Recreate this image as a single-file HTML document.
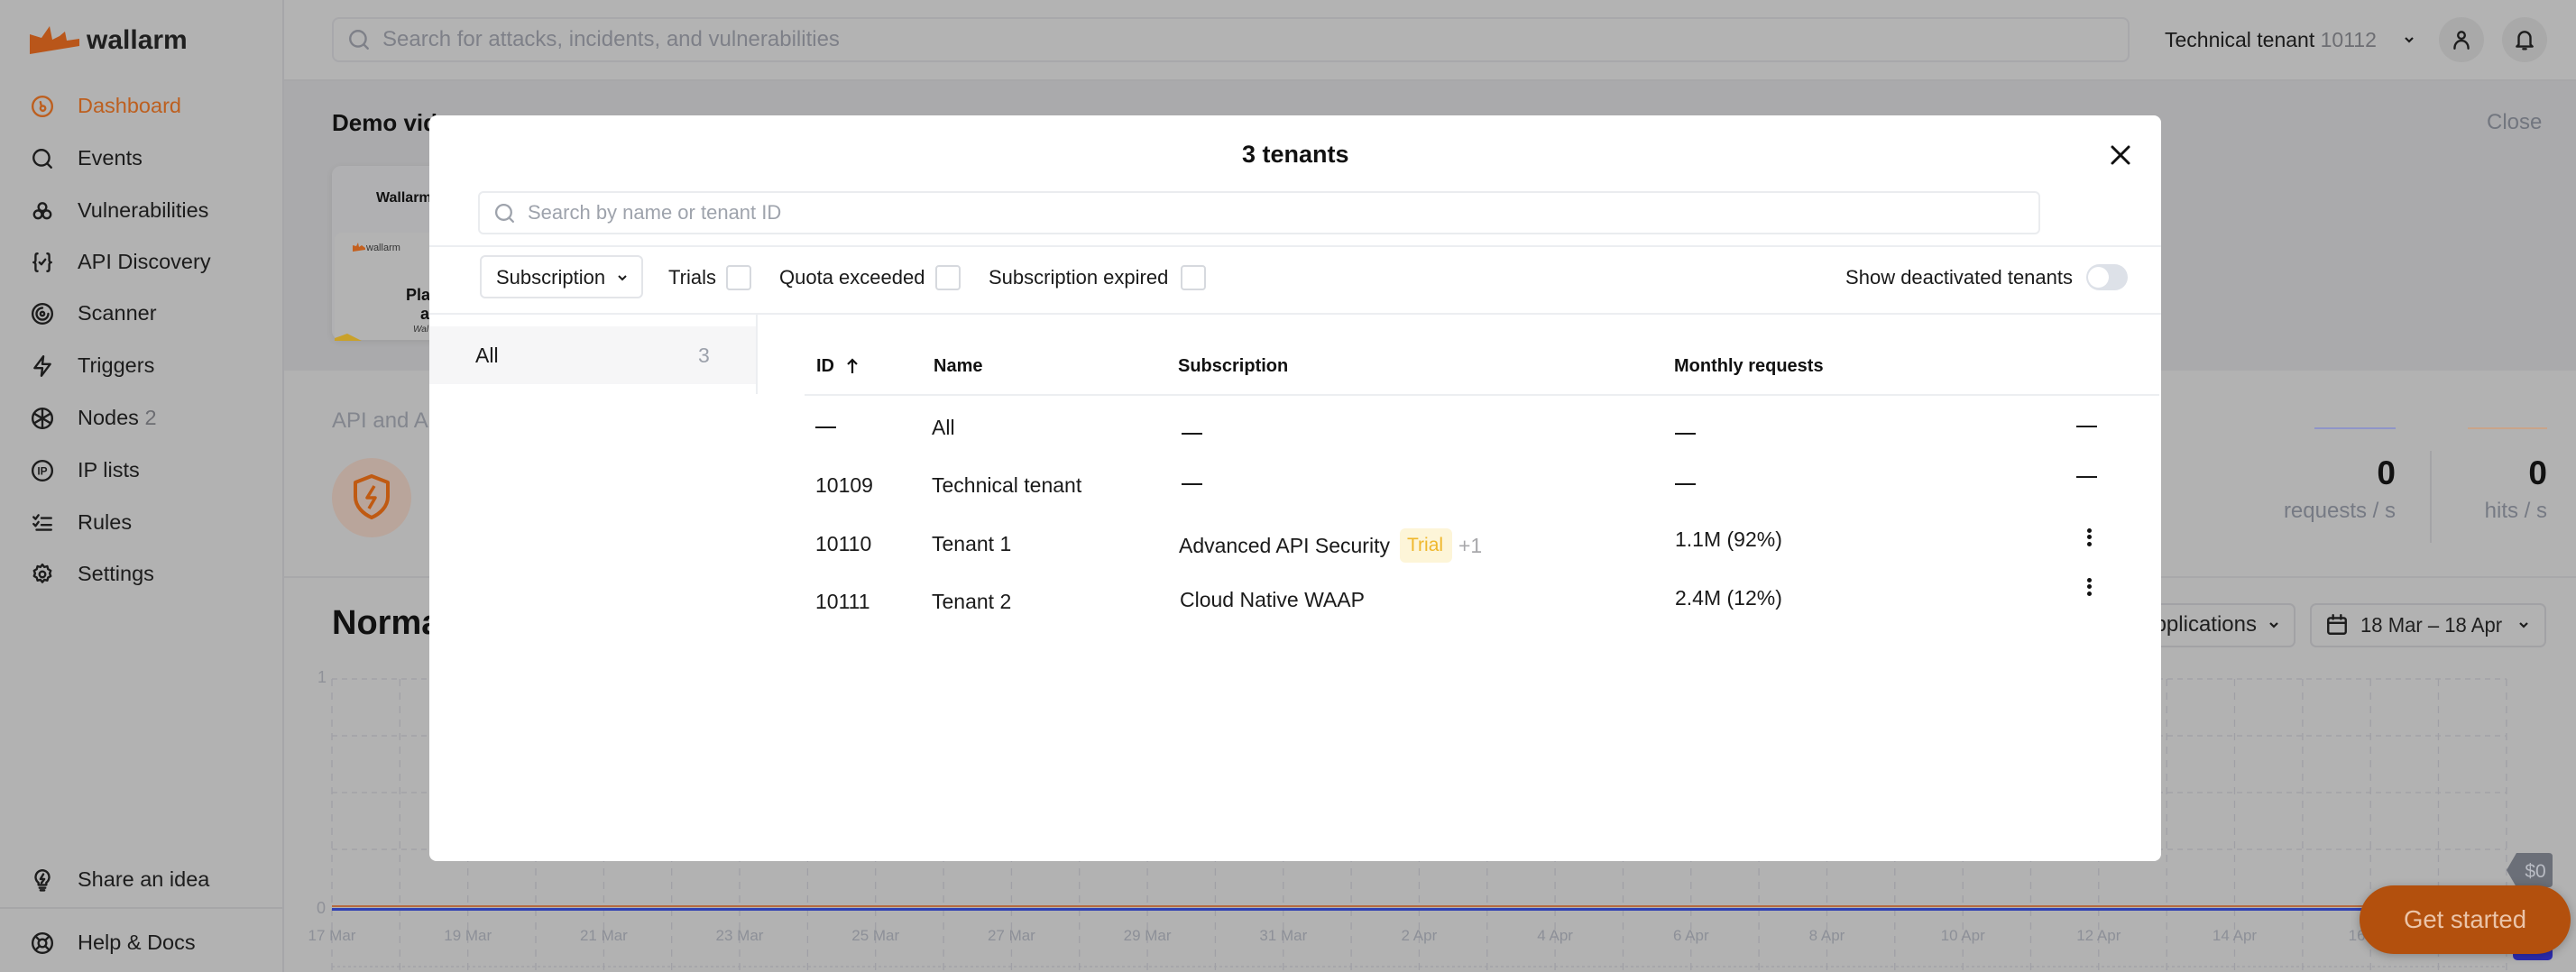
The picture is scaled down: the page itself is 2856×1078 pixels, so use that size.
<!DOCTYPE html>
<html><head><meta charset="utf-8">
<style>
*{margin:0;padding:0;box-sizing:border-box}
html,body{width:2856px;height:1078px;overflow:hidden;background:#b2b2b2;font-family:"Liberation Sans",sans-serif;position:relative}
.a{position:absolute}
.t{position:absolute;white-space:nowrap;line-height:1}
.ic{position:absolute;width:26px;height:26px;fill:none;stroke:#1d1d1d;stroke-width:2.2;stroke-linecap:round;stroke-linejoin:round}
.sb{font-size:23.5px;color:#1c1c1c;left:86px}
.m{font-size:23px;color:#1a1a1a}
.f{font-size:22px;color:#1a1a1a}
.h{font-size:20px;font-weight:bold;color:#111}
.cb{position:absolute;width:28px;height:28px;border:2px solid #d6d9de;border-radius:4px;background:#fff}
.dash{position:absolute;width:23px;height:2px;background:#1a1a1a}
.dot{position:absolute;width:5px;height:5px;border-radius:50%;background:#111}
.line{position:absolute;background:#eceef1}
</style></head><body>

<!-- sidebar -->
<div class="a" style="left:0;top:0;width:315px;height:1078px;background:#b2b2b2;border-right:2px solid #a6a6a9"></div>
<svg class="a" style="left:0;top:0" width="100" height="80"><polygon points="33,60 33,38 46,42 55,29 58,44 66,40 72,35 74,45 88,43 88,51" fill="#b9561a"/></svg>
<div class="t" style="left:96px;top:30px;font-size:30px;font-weight:bold;color:#1f1f1f">wallarm</div>

<svg class="ic" style="left:34px;top:105px;stroke:#bd5f1f" viewBox="0 0 24 24"><circle cx="12" cy="12" r="10"/><circle cx="12.5" cy="14" r="2.5"/><path d="M10 7.5 L11 11.8"/></svg>
<div class="t sb" style="top:106px;color:#bd5f1f">Dashboard</div>
<svg class="ic" style="left:34px;top:163px" viewBox="0 0 24 24"><circle cx="11" cy="11" r="8"/><path d="M17 17 L21 21"/></svg>
<div class="t sb" style="top:164px">Events</div>
<svg class="ic" style="left:34px;top:221px" viewBox="0 0 24 24"><circle cx="12" cy="8" r="4"/><circle cx="7.5" cy="15.5" r="4"/><circle cx="16.5" cy="15.5" r="4"/></svg>
<div class="t sb" style="top:222px">Vulnerabilities</div>
<svg class="ic" style="left:34px;top:278px" viewBox="0 0 24 24"><path d="M7 3 C5 3 5 4 5 6 V10 C5 11 4 12 3 12 C4 12 5 13 5 14 V18 C5 20 5 21 7 21"/><path d="M17 3 C19 3 19 4 19 6 V10 C19 11 20 12 21 12 C20 12 19 13 19 14 V18 C19 20 19 21 17 21"/><path d="M9 12 L11 14 L15 9"/></svg>
<div class="t sb" style="top:279px">API Discovery</div>
<svg class="ic" style="left:34px;top:335px" viewBox="0 0 24 24"><circle cx="12" cy="12" r="10"/><path d="M12 6 A6 6 0 1 0 18 12"/><circle cx="12" cy="12" r="2"/></svg>
<div class="t sb" style="top:336px">Scanner</div>
<svg class="ic" style="left:34px;top:393px" viewBox="0 0 24 24"><path d="M13 2 L4 14 H12 L11 22 L20 10 H12 Z"/></svg>
<div class="t sb" style="top:394px">Triggers</div>
<svg class="ic" style="left:34px;top:451px" viewBox="0 0 24 24"><circle cx="12" cy="12" r="10"/><path d="M12 2 V22 M3.5 7 L20.5 17 M3.5 17 L20.5 7"/></svg>
<div class="t sb" style="top:452px">Nodes <span style="color:#6c6d72">2</span></div>
<svg class="ic" style="left:34px;top:509px" viewBox="0 0 24 24"><circle cx="12" cy="12" r="10"/><text x="12" y="16" font-size="11" font-weight="bold" text-anchor="middle" fill="#1d1d1d" stroke="none" font-family="Liberation Sans">IP</text></svg>
<div class="t sb" style="top:510px">IP lists</div>
<svg class="ic" style="left:34px;top:567px" viewBox="0 0 24 24"><path d="M3 6 L5 8 L8 4 M3 13 L5 15 L8 11 M11 7 H21 M11 14 H21 M6 19 H21"/></svg>
<div class="t sb" style="top:568px">Rules</div>
<svg class="ic" style="left:34px;top:624px" viewBox="0 0 24 24"><circle cx="12" cy="12" r="3"/><path d="M12 2 l2 2.5 3-.8 .8 3 2.7 1.5-1 2.8 1 2.8-2.7 1.5-.8 3-3-.8-2 2.5-2-2.5-3 .8-.8-3-2.7-1.5 1-2.8-1-2.8 2.7-1.5.8-3 3 .8z"/></svg>
<div class="t sb" style="top:625px">Settings</div>
<svg class="ic" style="left:34px;top:963px" viewBox="0 0 24 24"><path d="M12 2 A7 7 0 0 0 8 14.7 V17 H16 V14.7 A7 7 0 0 0 12 2 Z"/><path d="M9 20 H15 M10 22.5 H14"/><path d="M13 6 L10 11 H14 L11 15"/></svg>
<div class="t sb" style="top:964px">Share an idea</div>
<div class="a" style="left:0;top:1006px;width:313px;height:2px;background:#a6a6a8"></div>
<svg class="ic" style="left:34px;top:1033px" viewBox="0 0 24 24"><circle cx="12" cy="12" r="10"/><circle cx="12" cy="12" r="4"/><path d="M5 5 L9.2 9.2 M14.8 14.8 L19 19 M19 5 L14.8 9.2 M9.2 14.8 L5 19"/></svg>
<div class="t sb" style="top:1034px">Help &amp; Docs</div>

<!-- header -->
<div class="a" style="left:315px;top:0;width:2541px;height:90px;background:#b3b3b3;border-bottom:2px solid #a7a7a9"></div>
<div class="a" style="left:368px;top:19px;width:1993px;height:50px;border:2px solid #a8a8ab;border-radius:8px"></div>
<svg class="ic" style="left:385px;top:31px;stroke:#7e8088;width:26px;height:26px" viewBox="0 0 24 24"><circle cx="11" cy="11" r="8"/><path d="M17 17 L21 21"/></svg>
<div class="t" style="left:424px;top:32px;font-size:24px;color:#7e8088">Search for attacks, incidents, and vulnerabilities</div>
<div class="t" style="left:2400px;top:33px;font-size:23px;color:#1b1b1b">Technical tenant <span style="color:#6d6e73">10112</span></div>
<svg class="a" style="left:2664px;top:37px" width="14" height="14" viewBox="0 0 14 14"><polyline points="3,5 7,9 11,5" fill="none" stroke="#1b1b1b" stroke-width="2.2"/></svg>
<div class="a" style="left:2704px;top:19px;width:50px;height:50px;border-radius:50%;background:#a9a9a9"></div>
<svg class="ic" style="left:2716px;top:31px" viewBox="0 0 24 24"><circle cx="12" cy="7.5" r="3.5"/><path d="M5 21 C5 15 9 13 12 13 C15 13 19 15 19 21"/></svg>
<div class="a" style="left:2774px;top:19px;width:50px;height:50px;border-radius:50%;background:#a9a9a9"></div>
<svg class="ic" style="left:2786px;top:31px" viewBox="0 0 24 24"><path d="M6 17 V10 A6 6 0 0 1 18 10 V17 L20 19 H4 Z"/><path d="M10.5 21.5 H13.5"/></svg>

<!-- demo area -->
<div class="a" style="left:315px;top:90px;width:2541px;height:321px;background:#aaaaac"></div>
<div class="t" style="left:368px;top:123px;font-size:26px;font-weight:bold;color:#111">Demo videos</div>
<div class="t" style="left:2757px;top:124px;font-size:24px;color:#72767f">Close</div>
<div class="a" style="left:368px;top:184px;width:300px;height:193px;background:#b0b0b2;border-radius:10px;box-shadow:0 2px 8px rgba(0,0,0,.08)"></div>
<div class="t" style="left:417px;top:212px;font-size:16px;font-weight:bold;color:#111">Wallarm</div>
<div class="a" style="left:371px;top:258px;width:297px;height:119px;background:#b3b3b3;border-radius:8px 8px 0 0"></div>
<svg class="a" style="left:390px;top:268px" width="16" height="12"><polygon points="1,11 1,4 5,5 7,1 8,6 11,4 15,7 15,9" fill="#c4601f"/></svg>
<div class="t" style="left:406px;top:270px;font-size:11px;color:#333">wallarm</div>
<div class="t" style="left:450px;top:318px;font-size:18px;font-weight:bold;color:#111">Pla</div>
<div class="t" style="left:466px;top:339px;font-size:18px;font-weight:bold;color:#111">a</div>
<div class="t" style="left:458px;top:361px;font-size:10px;font-style:italic;color:#333">Wal</div>
<svg class="a" style="left:371px;top:368px" width="40" height="10"><polygon points="0,10 0,7 14,2 30,10" fill="#c9a12a"/></svg>

<!-- stats area -->
<div class="t" style="left:368px;top:455px;font-size:24px;color:#83868e">API and Applications</div>
<div class="a" style="left:368px;top:508px;width:88px;height:88px;border-radius:50%;background:#b9a59b"></div>
<svg class="a" style="left:390px;top:525px" width="44" height="52" viewBox="0 0 44 52"><path d="M22 3 L40 10 V26 C40 37 31 45 22 49 C13 45 4 37 4 26 V10 Z" fill="none" stroke="#c05a12" stroke-width="4" stroke-linejoin="round"/><path d="M25 14 L17 27 H26 L19 39" fill="none" stroke="#c05a12" stroke-width="3.5" stroke-linejoin="round"/></svg>
<div class="a" style="left:2566px;top:474px;width:90px;height:2px;background:#8f95c8"></div>
<div class="a" style="left:2736px;top:474px;width:88px;height:2px;background:#c9a48a"></div>
<div class="t" style="right:200px;top:506px;font-size:37px;font-weight:bold;color:#111">0</div>
<div class="t" style="right:32px;top:506px;font-size:37px;font-weight:bold;color:#111">0</div>
<div class="t" style="right:200px;top:555px;font-size:24px;color:#767a84">requests / s</div>
<div class="t" style="right:32px;top:555px;font-size:24px;color:#767a84">hits / s</div>
<div class="a" style="left:2694px;top:500px;width:2px;height:102px;background:#a4a4a7"></div>
<div class="a" style="left:315px;top:639px;width:2541px;height:2px;background:#a8a8aa"></div>

<div class="t" style="left:368px;top:672px;font-size:38px;font-weight:bold;color:#111">Normal traffic</div>
<div class="a" style="left:2300px;top:669px;width:245px;height:49px;border:2px solid #a2a2a5;border-radius:7px"></div>
<div class="t" style="right:354px;top:681px;font-size:24px;color:#1f1f1f">Applications</div>
<svg class="a" style="left:2514px;top:686px" width="14" height="14" viewBox="0 0 14 14"><polyline points="3,5 7,9 11,5" fill="none" stroke="#1b1b1b" stroke-width="2.2"/></svg>
<div class="a" style="left:2561px;top:669px;width:262px;height:49px;border:2px solid #a2a2a5;border-radius:7px"></div>
<svg class="ic" style="left:2578px;top:680px" viewBox="0 0 24 24"><rect x="3" y="5" width="18" height="16" rx="2"/><path d="M3 10 H21 M8 2 V6 M16 2 V6"/></svg>
<div class="t" style="left:2617px;top:682px;font-size:23px;color:#1f1f1f;transform:scaleX(0.96);transform-origin:left center">18 Mar – 18 Apr</div>
<svg class="a" style="left:2791px;top:686px" width="14" height="14" viewBox="0 0 14 14"><polyline points="3,5 7,9 11,5" fill="none" stroke="#1b1b1b" stroke-width="2.2"/></svg>

<!-- chart -->
<svg class="a" style="left:0;top:0" width="2856" height="1078">
<g stroke="#a0a0a6" stroke-width="1.3" fill="none">
<path stroke-dasharray="8 7" d="M368 753V1078M443.3 753V1078M518.7 753V1078M594 753V1078M669.4 753V1078M744.7 753V1078M820 753V1078M895.4 753V1078M970.7 753V1078M1046.1 753V1078M1121.4 753V1078M1196.7 753V1078M1272.1 753V1078M1347.4 753V1078M1422.8 753V1078M1498.1 753V1078M1573.4 753V1078M1648.8 753V1078M1724.1 753V1078M1799.5 753V1078M1874.8 753V1078M1950.1 753V1078M2025.5 753V1078M2100.8 753V1078M2176.2 753V1078M2251.5 753V1078M2326.8 753V1078M2402.2 753V1078M2477.5 753V1078M2552.9 753V1078M2628.2 753V1078M2703.5 753V1078M2778.9 753V1078"/>
<path stroke-dasharray="6 5" d="M368 753H2779M368 816H2779M368 879H2779M368 942H2779"/>
<path stroke-dasharray="3 3" d="M368 1072H2779"/>
</g>
<path d="M368 1005H2779" stroke="#b76a3e" stroke-width="2"/>
<path d="M368 1008.5H2779" stroke="#3141b2" stroke-width="3"/>
<g font-family="Liberation Sans" font-size="18" fill="#8f9198" text-anchor="end">
<text x="362" y="757">1</text><text x="361" y="1013">0</text>
</g>
<g font-family="Liberation Sans" font-size="17" fill="#8d9098" text-anchor="middle">
<text x="368" y="1043">17 Mar</text><text x="518.7" y="1043">19 Mar</text><text x="669.4" y="1043">21 Mar</text><text x="820" y="1043">23 Mar</text><text x="970.7" y="1043">25 Mar</text><text x="1121.4" y="1043">27 Mar</text><text x="1272.1" y="1043">29 Mar</text><text x="1422.8" y="1043">31 Mar</text><text x="1573.4" y="1043">2 Apr</text><text x="1724.1" y="1043">4 Apr</text><text x="1874.8" y="1043">6 Apr</text><text x="2025.5" y="1043">8 Apr</text><text x="2176.2" y="1043">10 Apr</text><text x="2326.8" y="1043">12 Apr</text><text x="2477.5" y="1043">14 Apr</text><text x="2628.2" y="1043">16 Apr</text><text x="2778.9" y="1043">18 Apr</text>
</g>
</svg>

<!-- modal -->
<div class="a" style="left:476px;top:128px;width:1920px;height:827px;background:#fff;border-radius:8px"></div>
<div class="t" style="left:1377px;top:158px;font-size:27px;font-weight:bold;color:#111">3 tenants</div>
<svg class="a" style="left:2339px;top:160px" width="24" height="24" viewBox="0 0 24 24"><path d="M3 3 L21 21 M21 3 L3 21" stroke="#111" stroke-width="3" stroke-linecap="round"/></svg>

<div class="a" style="left:530px;top:212px;width:1732px;height:48px;border:2px solid #eaecef;border-radius:6px"></div>
<svg class="ic" style="left:547px;top:224px;stroke:#9ea3ac;width:25px;height:25px" viewBox="0 0 24 24"><circle cx="11" cy="11" r="8"/><path d="M17 17 L21 21"/></svg>
<div class="t" style="left:585px;top:225px;font-size:22px;color:#9ea3ac">Search by name or tenant ID</div>
<div class="line" style="left:476px;top:272px;width:1920px;height:2px"></div>

<div class="a" style="left:532px;top:283px;width:181px;height:48px;border:2px solid #e3e5e9;border-radius:6px"></div>
<div class="t f" style="left:550px;top:297px">Subscription</div>
<svg class="a" style="left:683px;top:301px" width="14" height="14" viewBox="0 0 14 14"><polyline points="3,5 7,9 11,5" fill="none" stroke="#1a1a1a" stroke-width="2"/></svg>
<div class="t f" style="left:741px;top:297px">Trials</div>
<div class="cb" style="left:805px;top:294px"></div>
<div class="t f" style="left:864px;top:297px">Quota exceeded</div>
<div class="cb" style="left:1037px;top:294px"></div>
<div class="t f" style="left:1096px;top:297px">Subscription expired</div>
<div class="cb" style="left:1309px;top:294px"></div>
<div class="t f" style="right:558px;top:297px">Show deactivated tenants</div>
<div class="a" style="left:2313px;top:293px;width:46px;height:29px;border-radius:15px;background:#dde1e8"></div>
<div class="a" style="left:2315px;top:296px;width:23px;height:23px;border-radius:50%;background:#fff"></div>
<div class="line" style="left:476px;top:347px;width:1920px;height:2px"></div>

<div class="a" style="left:476px;top:362px;width:362px;height:64px;background:#f6f6f7"></div>
<div class="t m" style="left:527px;top:383px">All</div>
<div class="t m" style="left:774px;top:383px;color:#9ca1ab">3</div>
<div class="line" style="left:838px;top:349px;width:2px;height:88px"></div>

<div class="t h" style="left:905px;top:396px">ID</div>
<svg class="a" style="left:937px;top:396px" width="16" height="20" viewBox="0 0 16 20"><path d="M8 18 V3 M3 8 L8 3 L13 8" fill="none" stroke="#111" stroke-width="2.2"/></svg>
<div class="t h" style="left:1035px;top:396px">Name</div>
<div class="t h" style="left:1306px;top:396px">Subscription</div>
<div class="t h" style="left:1856px;top:396px">Monthly requests</div>
<div class="line" style="left:892px;top:437px;width:1502px;height:2px"></div>

<!-- rows -->
<div class="dash" style="left:904px;top:473px"></div>
<div class="t m" style="left:1033px;top:463px">All</div>
<div class="dash" style="left:1310px;top:480px"></div>
<div class="dash" style="left:1857px;top:480px"></div>
<div class="dash" style="left:2302px;top:472px"></div>

<div class="t m" style="left:904px;top:527px">10109</div>
<div class="t m" style="left:1033px;top:527px">Technical tenant</div>
<div class="dash" style="left:1310px;top:536px"></div>
<div class="dash" style="left:1857px;top:536px"></div>
<div class="dash" style="left:2302px;top:528px"></div>

<div class="t m" style="left:904px;top:592px">10110</div>
<div class="t m" style="left:1033px;top:592px">Tenant 1</div>
<div class="t m" style="left:1307px;top:594px">Advanced API Security</div>
<div class="a" style="left:1552px;top:586px;width:58px;height:38px;border-radius:6px;background:#fdf5d8"></div>
<div class="t" style="left:1560px;top:594px;font-size:21px;color:#efb72c">Trial</div>
<div class="t m" style="left:1617px;top:594px;color:#a8a8ab">+1</div>
<div class="t m" style="left:1857px;top:587px">1.1M (92%)</div>
<div class="dot" style="left:2314px;top:586px"></div><div class="dot" style="left:2314px;top:593px"></div><div class="dot" style="left:2314px;top:601px"></div>

<div class="t m" style="left:904px;top:656px">10111</div>
<div class="t m" style="left:1033px;top:656px">Tenant 2</div>
<div class="t m" style="left:1308px;top:654px">Cloud Native WAAP</div>
<div class="t m" style="left:1857px;top:652px">2.4M (12%)</div>
<div class="dot" style="left:2314px;top:641px"></div><div class="dot" style="left:2314px;top:648px"></div><div class="dot" style="left:2314px;top:656px"></div>

<!-- floating widgets -->
<svg class="a" style="left:2776px;top:944px" width="58" height="42" viewBox="0 0 58 42"><path d="M3 21 L14 2 H50 Q54 2 54 6 V36 Q54 40 50 40 H14 Z" fill="#6b6f78"/><text x="35" y="29" font-family="Liberation Sans" font-size="21" fill="#b9bcc4" text-anchor="middle">$0</text></svg>
<div class="a" style="left:2786px;top:1040px;width:44px;height:25px;background:#2c2cb0;border-radius:0 0 5px 5px"></div>
<div class="a" style="left:2616px;top:982px;width:234px;height:76px;border-radius:38px;background:#b3500d;box-shadow:0 2px 10px rgba(0,0,0,.25)"></div>
<div class="t" style="left:2616px;width:234px;text-align:center;top:1006px;font-size:27.5px;color:#ebc4a8">Get started</div>

</body></html>
